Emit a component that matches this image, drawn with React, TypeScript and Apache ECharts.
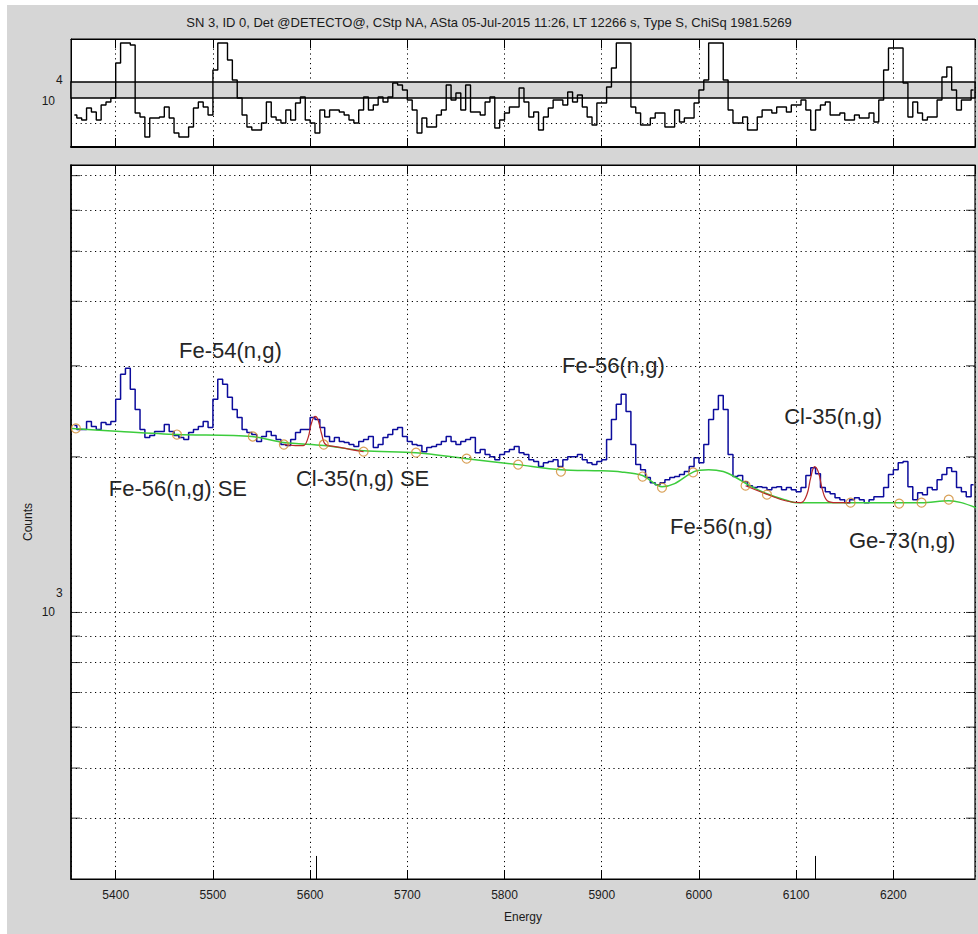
import React, { useEffect, useRef } from 'react';
import * as echarts from 'echarts';

// ---------- data ----------
const energyStart = 5355;
const binWidth = 5;

// spectrum counts per 5 keV bin (5355 .. 6285)
const spectrumCounts = [
  2300, 2259, 2259, 2342, 2290, 2259, 2331, 2311, 2342, 2584,
  2889, 2968, 2702, 2471, 2259, 2180, 2199, 2239, 2239, 2311,
  2239, 2199, 2180, 2161, 2229, 2259, 2290, 2342, 2280, 2584,
  2825, 2763, 2607, 2471, 2384, 2259, 2229, 2209, 2141, 2190,
  2239, 2199, 2161, 2113, 2103, 2161, 2229, 2259, 2259, 2384,
  2363, 2280, 2190, 2141, 2180, 2141, 2132, 2113, 2094, 2141,
  2161, 2190, 2084, 2113, 2180, 2209, 2259, 2280, 2190, 2141,
  2113, 2103, 2047, 2084, 2094, 2113, 2141, 2190, 2141, 2113,
  2141, 2161, 2180, 2038, 2066, 2020, 2002, 1975, 2020, 2047,
  2066, 2094, 2038, 2020, 1975, 1958, 1915, 1949, 1958, 1975,
  1915, 1975, 2002, 2002, 2020, 1975, 1949, 1932, 1958, 1975,
  2161, 2363, 2527, 2642, 2449, 2113, 1932, 1889, 1824, 1783,
  1767, 1783, 1807, 1824, 1832, 1848, 1873, 1915, 1993, 1949,
  2113, 2363, 2471, 2630, 2471, 2020, 1832, 1840, 1791, 1759,
  1744, 1751, 1744, 1728, 1744, 1751, 1728, 1744, 1728, 1713,
  1744, 1840, 1906, 1856, 1744, 1713, 1697, 1667, 1653, 1631,
  1653, 1667, 1653, 1631, 1653, 1675, 1675, 1744, 1848, 1889,
  1949, 1958, 1751, 1653, 1705, 1690, 1744, 1728, 1807, 1848,
  1906, 1873, 1744, 1713, 1675, 1767,
];

// residual trace of the upper panel (panel units 0..108)
const residualValues = [
  32, 29, 27, 39, 35, 27, 42, 45, 49, 84,
  104, 104, 102, 34, 30, 10, 29, 29, 30, 40,
  29, 14, 10, 10, 20, 39, 45, 40, 32, 77,
  104, 104, 87, 67, 49, 32, 20, 17, 17, 24,
  45, 30, 27, 24, 37, 27, 44, 50, 27, 24,
  14, 37, 30, 37, 37, 35, 32, 27, 24, 37,
  50, 37, 42, 50, 45, 50, 64, 62, 57, 47,
  37, 14, 29, 20, 20, 32, 37, 62, 47, 54,
  37, 62, 35, 35, 32, 45, 50, 19, 27, 34,
  40, 40, 59, 45, 30, 35, 17, 30, 39, 47,
  47, 42, 55, 45, 52, 40, 30, 22, 44, 44,
  60, 79, 104, 104, 104, 40, 34, 22, 22, 29,
  34, 34, 20, 20, 37, 25, 29, 29, 44, 57,
  67, 104, 104, 104, 67, 37, 24, 24, 30, 17,
  17, 30, 37, 37, 34, 40, 40, 35, 42, 42,
  47, 37, 17, 37, 42, 45, 32, 32, 34, 27,
  27, 32, 29, 29, 34, 25, 47, 77, 99, 99,
  99, 64, 30, 45, 34, 27, 30, 30, 47, 70,
  80, 57, 37, 47, 47, 57,
];
const residualBand = [49, 65];
const residualGrid = [24];

// continuum (green)
const backgroundEnergy = [5355, 5405, 5463, 5540, 5573, 5614, 5655, 5709, 5761, 5814, 5858, 5899, 5920, 5942, 5962, 5975, 5995, 6010, 6025, 6038, 6052, 6070, 6088, 6100, 6157, 6207, 6229, 6257, 6270, 6285];
const backgroundCounts = [2270, 2239, 2209, 2190, 2132, 2103, 2056, 2038, 1984, 1932, 1889, 1880, 1870, 1840, 1751, 1775, 1873, 1889, 1873, 1824, 1759, 1697, 1653, 1631, 1631, 1631, 1631, 1645, 1631, 1594];

// peak fits (red)
const fit1Energy = [5573, 5585, 5593, 5598, 5601, 5605, 5608, 5612, 5616, 5626, 5642, 5655];
const fit1Counts = [2113, 2103, 2103, 2180, 2311, 2395, 2363, 2209, 2113, 2094, 2066, 2047];
const fit2Energy = [6048, 6071, 6089, 6105, 6111, 6115, 6119, 6123, 6127, 6132, 6141, 6156];
const fit2Counts = [1759, 1690, 1645, 1631, 1690, 1824, 1915, 1865, 1728, 1645, 1631, 1631];

// continuum nodes (circles)
const nodeEnergy = [5359, 5463, 5541, 5573, 5614, 5655, 5709, 5761, 5814, 5858, 5942, 5962, 5994, 6048, 6070, 6156, 6206, 6229, 6257];
const nodeCounts = [2270, 2209, 2190, 2113, 2113, 2047, 2038, 1984, 1932, 1873, 1832, 1744, 1866, 1759, 1690, 1631, 1624, 1631, 1653];

// peak labels
const labelTexts = ['Fe-54(n,g)', 'Fe-56(n,g) SE', 'Cl-35(n,g) SE', 'Fe-56(n,g)', 'Cl-35(n,g)', 'Fe-56(n,g)', 'Ge-73(n,g)'];
const labelEnergy = [5518, 5464, 5654, 5912, 6138, 6023, 6209];
const labelCounts = [3219, 1734, 1820, 3011, 2389, 1464, 1375];

// library peak markers at the bottom
const markerEnergy = [5606, 6120];
const markerTop = 338;

const xMin = 5354;
const xMax = 6284;
const yMin = 305;
const yMax = 7340;
const countGrid = [400, 500, 600, 700, 800, 900, 1000, 2000, 3000, 4000, 5000, 6000, 7000];

const titleText = 'SN 3, ID 0, Det @DETECTO@, CStp NA, ASta 05-Jul-2015 11:26, LT 12266 s, Type S, ChiSq 1981.5269';

const FONT = 'Liberation Sans, Arial, sans-serif';
const FIG = '#d6d6d6';
const DOT: number[] = [1.2, 3.6];

export default function App() {
  const ref = useRef<HTMLDivElement>(null);
  useEffect(() => {
    if (!ref.current) return;
    const chart = echarts.init(ref.current, undefined, { renderer: 'svg' });
    const binCenters = spectrumCounts.map((_, i) => energyStart + binWidth * i + binWidth / 2);

    const xBase = {
      type: 'value' as const,
      min: xMin,
      max: xMax,
      splitNumber: 9,
      axisLine: { show: true, onZero: false, lineStyle: { color: '#000', width: 1.2 } },
      axisTick: { show: true, inside: true, length: 9, lineStyle: { color: '#000' } },
      axisLabel: { show: false },
      splitLine: { show: false },
    };

    const option: any = {
      animation: false,
      backgroundColor: '#ffffff',
      title: {
        text: titleText,
        left: 'center',
        top: 11,
        textStyle: { fontFamily: FONT, fontSize: 13, fontWeight: 'normal', color: '#1a1a1a' },
      },
      graphic: [
        { type: 'rect', z: -10, shape: { x: 7, y: 5, width: 980, height: 940 }, style: { fill: FIG } },
        { type: 'text', x: 55, y: 101, style: { text: '10', fontFamily: FONT, fontSize: 12, fill: '#1a1a1a', align: 'right', verticalAlign: 'middle' } },
        { type: 'text', x: 56, y: 80, style: { text: '4', fontFamily: FONT, fontSize: 12, fill: '#1a1a1a', align: 'left', verticalAlign: 'middle' } },
        { type: 'text', x: 55, y: 612, style: { text: '10', fontFamily: FONT, fontSize: 12, fill: '#1a1a1a', align: 'right', verticalAlign: 'middle' } },
        { type: 'text', x: 56, y: 593, style: { text: '3', fontFamily: FONT, fontSize: 12, fill: '#1a1a1a', align: 'left', verticalAlign: 'middle' } },
      ],
      grid: [
        { left: 71, top: 39, width: 904, height: 108, show: true, backgroundColor: '#fff', borderColor: '#000', borderWidth: 1 },
        { left: 71, top: 165, width: 904, height: 714, show: true, backgroundColor: '#fff', borderColor: '#000', borderWidth: 1.2 },
      ],
      xAxis: [
        { ...xBase, gridIndex: 0, axisLine: { show: true, onZero: false, lineStyle: { color: '#000', width: 2 } },
          splitLine: { show: true, lineStyle: { color: '#000', type: DOT, width: 1 } } },
        { ...xBase, gridIndex: 1,
          axisLabel: { show: true, showMinLabel: false, showMaxLabel: false, fontFamily: FONT, fontSize: 12, color: '#1a1a1a', margin: 10,
            formatter: (v: number) => String(v) },
          splitLine: { show: true, lineStyle: { color: '#000', type: DOT, width: 1 } },
          name: 'Energy', nameLocation: 'middle', nameGap: 32,
          nameTextStyle: { fontFamily: FONT, fontSize: 12, color: '#1a1a1a' } },
        { ...xBase, gridIndex: 0, position: 'top' },
        { ...xBase, gridIndex: 1, position: 'top' },
      ],
      yAxis: [
        { type: 'value', gridIndex: 0, min: 0, max: 108, axisLine: { show: true, lineStyle: { color: '#000' } },
          axisTick: { show: false }, axisLabel: { show: false }, splitLine: { show: false } },
        { type: 'log', logBase: 10, gridIndex: 1, min: yMin, max: yMax,
          axisLine: { show: true, lineStyle: { color: '#000', width: 1.5 } },
          axisTick: { show: false }, axisLabel: { show: false }, splitLine: { show: false },
          name: 'Counts', nameLocation: 'middle', nameGap: 37, nameRotate: 90,
          nameTextStyle: { fontFamily: FONT, fontSize: 12, color: '#1a1a1a' } },
      ],
      series: [
        {
          type: 'line', xAxisIndex: 0, yAxisIndex: 0, step: 'middle', symbol: 'none',
          data: residualValues.map((v, i) => [binCenters[i], v]),
          lineStyle: { color: '#000', width: 1.4 }, z: 5,
          markArea: {
            silent: true,
            itemStyle: { color: FIG, borderColor: '#000', borderWidth: 1.5 },
            data: [[{ yAxis: residualBand[0] }, { yAxis: residualBand[1] }]],
          },
          markLine: {
            silent: true, symbol: 'none', label: { show: false },
            lineStyle: { color: '#000', type: DOT, width: 1 },
            data: residualGrid.map((v) => ({ yAxis: v })),
          },
        },
        {
          type: 'line', xAxisIndex: 1, yAxisIndex: 1, step: 'middle', symbol: 'none',
          data: spectrumCounts.map((c, i) => [binCenters[i], c]),
          lineStyle: { color: '#0c0c9c', width: 1.5 }, z: 3,
          markLine: {
            silent: true, symbol: 'none', label: { show: false },
            lineStyle: { color: '#000', type: DOT, width: 1 },
            data: countGrid.map((v) => ({ yAxis: v })),
          },
        },
        {
          type: 'line', xAxisIndex: 1, yAxisIndex: 1, symbol: 'none', smooth: 0.3,
          data: backgroundEnergy.map((e, i) => [e, backgroundCounts[i]]),
          lineStyle: { color: '#3ccc3c', width: 1.5 }, z: 4,
        },
        {
          type: 'line', xAxisIndex: 1, yAxisIndex: 1, symbol: 'none', smooth: 0.4,
          data: fit1Energy.map((e, i) => [e, fit1Counts[i]]),
          lineStyle: { color: '#b82828', width: 1.2 }, z: 5,
        },
        {
          type: 'line', xAxisIndex: 1, yAxisIndex: 1, symbol: 'none', smooth: 0.4,
          data: fit2Energy.map((e, i) => [e, fit2Counts[i]]),
          lineStyle: { color: '#b82828', width: 1.2 }, z: 5,
        },
        {
          type: 'scatter', xAxisIndex: 1, yAxisIndex: 1, symbol: 'circle', symbolSize: 9,
          data: nodeEnergy.map((e, i) => [e, nodeCounts[i]]),
          itemStyle: { color: 'rgba(0,0,0,0)', borderColor: '#cf8a2e', borderWidth: 1.2 }, z: 6,
        },
        {
          type: 'scatter', xAxisIndex: 1, yAxisIndex: 1, symbolSize: 1, silent: true,
          itemStyle: { color: 'rgba(0,0,0,0)' },
          data: labelTexts.map((t, i) => ({ name: t, value: [labelEnergy[i], labelCounts[i]] })),
          label: { show: true, position: 'inside', formatter: '{b}', fontFamily: FONT, fontSize: 22, color: '#262626', opacity: 1 },
          z: 7,
        },
        {
          type: 'line', xAxisIndex: 1, yAxisIndex: 1, symbol: 'none', data: [],
          markLine: {
            silent: true, symbol: 'none', label: { show: false },
            lineStyle: { color: '#000', type: 'solid', width: 1 },
            data: markerEnergy.map((e) => [{ coord: [e, yMin] }, { coord: [e, markerTop] }]),
          },
        },
        {
          type: 'scatter', xAxisIndex: 1, yAxisIndex: 1, symbol: 'rect', symbolSize: [9, 1], symbolOffset: [4.5, 0],
          data: countGrid.map((v) => [xMin, v]), itemStyle: { color: '#000' }, silent: true, z: 8,
        },
        {
          type: 'scatter', xAxisIndex: 1, yAxisIndex: 1, symbol: 'rect', symbolSize: [9, 1], symbolOffset: [-4.5, 0],
          data: countGrid.map((v) => [xMax, v]), itemStyle: { color: '#000' }, silent: true, z: 8,
        },
      ],
    };
    chart.setOption(option);
    return () => chart.dispose();
  }, []);
  return <div ref={ref} style={{ position: 'absolute', left: 0, top: 0, width: 978, height: 934 }} />;
}
